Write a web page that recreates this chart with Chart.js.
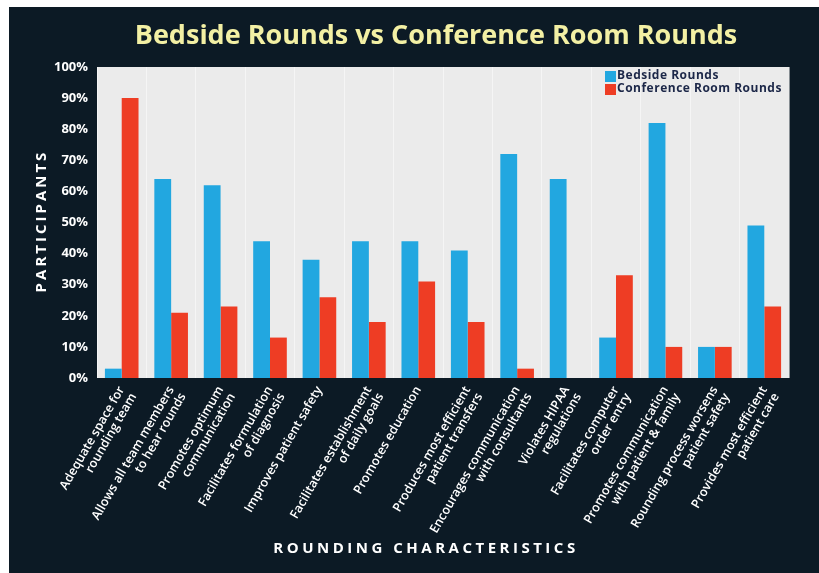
<!DOCTYPE html>
<html>
<head>
<meta charset="utf-8">
<script src="https://cdn.jsdelivr.net/npm/chart.js@4.4.1/dist/chart.umd.min.js"></script>
<style>
  html, body { margin: 0; padding: 0; background: #fff; }
  #wrap { width: 819px; height: 573px; position: relative; }
</style>
</head>
<body>
<div id="wrap"><canvas id="roundsChart"></canvas></div>
<script>
// Survey results: share of participants picking each characteristic
const categories = [
  ["Adequate space for", "rounding team"],
  ["Allows all team members", "to hear rounds"],
  ["Promotes optimum", "communication"],
  ["Facilitates formulation", "of diagnosis"],
  ["Improves patient safety"],
  ["Facilitates establishment", "of daily goals"],
  ["Promotes education"],
  ["Produces most efficient", "patient transfers"],
  ["Encourages communication", "with consultants"],
  ["Violates HIPAA", "regulations"],
  ["Facilitates computer", "order entry"],
  ["Promotes communication", "with patient & family"],
  ["Rounding process worsens", "patient safety"],
  ["Provides most efficient", "patient care"]
];
const bedside = [3, 64, 62, 44, 38, 44, 44, 41, 72, 64, 13, 82, 10, 49];
const conference = [90, 21, 23, 13, 26, 18, 31, 18, 3, 0, 33, 10, 10, 23];
const seriesNames = ["Bedside Rounds", "Conference Room Rounds"];
const yTicks = [0, 10, 20, 30, 40, 50, 60, 70, 80, 90, 100];

const BG = "#0c1a25";
const PLOT_BG = "#ebebeb";
const BLUE = "#22a7e0";
const RED = "#ee3d24";

// backdrop, plot fill, title, axis titles and in-plot legend
const decor = {
  id: "decor",
  beforeDraw(chart) {
    const { ctx, chartArea: a, width, height } = chart;
    ctx.save();
    ctx.fillStyle = "#ffffff";
    ctx.fillRect(0, 0, width, height);
    ctx.fillStyle = BG;
    ctx.fillRect(9, 7, width - 9, height - 7);
    ctx.fillStyle = PLOT_BG;
    ctx.fillRect(a.left, a.top, a.right - a.left, a.bottom - a.top);
    ctx.restore();
  },
  afterDraw(chart) {
    const { ctx } = chart;
    ctx.save();
    ctx.fillStyle = "#f3f0a4";
    ctx.font = "bold 27px 'Open Sans'";
    ctx.textAlign = "center";
    ctx.textBaseline = "middle";
    ctx.fillText("Bedside Rounds vs Conference Room Rounds", 436, 36);

    ctx.fillStyle = "#ffffff";
    ctx.letterSpacing = "3.5px";
    ctx.font = "bold 15px 'Open Sans'";
    ctx.fillText("ROUNDING CHARACTERISTICS", 426, 549);
    ctx.letterSpacing = "3px";
    ctx.translate(42, 221);
    ctx.rotate(-Math.PI / 2);
    ctx.fillText("PARTICIPANTS", 0, 0);
    ctx.restore();

    ctx.save();
    ctx.font = "bold 12px 'Open Sans'";
    ctx.letterSpacing = "0.5px";
    ctx.textBaseline = "middle";
    chart.data.datasets.forEach((ds, i) => {
      const y = 76 + i * 13;
      ctx.fillStyle = ds.backgroundColor;
      ctx.fillRect(605, y - 5, 11, 11);
      ctx.fillStyle = "#1c2748";
      ctx.fillText(ds.label, 617, y);
    });
    ctx.restore();
  }
};

new Chart(document.getElementById("roundsChart"), {
  type: "bar",
  data: {
    labels: categories,
    datasets: [
      { label: seriesNames[0], data: bedside, backgroundColor: BLUE },
      { label: seriesNames[1], data: conference, backgroundColor: RED }
    ]
  },
  options: {
    responsive: true,
    maintainAspectRatio: false,
    animation: false,
    layout: { padding: { left: 9, top: 67, right: 30, bottom: 0 } },
    datasets: { bar: { categoryPercentage: 0.68, barPercentage: 1.0 } },
    plugins: {
      legend: { display: false },
      title: { display: false },
      tooltip: { enabled: false }
    },
    scales: {
      x: {
        offset: true,
        grid: { offset: true, color: "rgba(255,255,255,0.5)", drawTicks: false },
        border: { display: false },
        ticks: {
          color: "#ffffff",
          font: { family: "'Open Sans'", size: 12.5, weight: "600", lineHeight: 1.1 },
          minRotation: 60,
          maxRotation: 60,
          autoSkip: false,
          padding: 6
        },
        afterFit(scale) { scale.height = 195; }
      },
      y: {
        min: 0,
        max: 100,
        afterBuildTicks(scale) { scale.ticks = yTicks.map(v => ({ value: v })); },
        grid: { display: false },
        border: { display: false },
        ticks: {
          color: "#ffffff",
          font: { family: "'Open Sans'", size: 13, weight: "bold" },
          padding: 1,
          callback: v => v + "%"
        },
        afterFit(scale) { scale.width = 88; }
      }
    }
  },
  plugins: [decor]
});
</script>
</body>
</html>
